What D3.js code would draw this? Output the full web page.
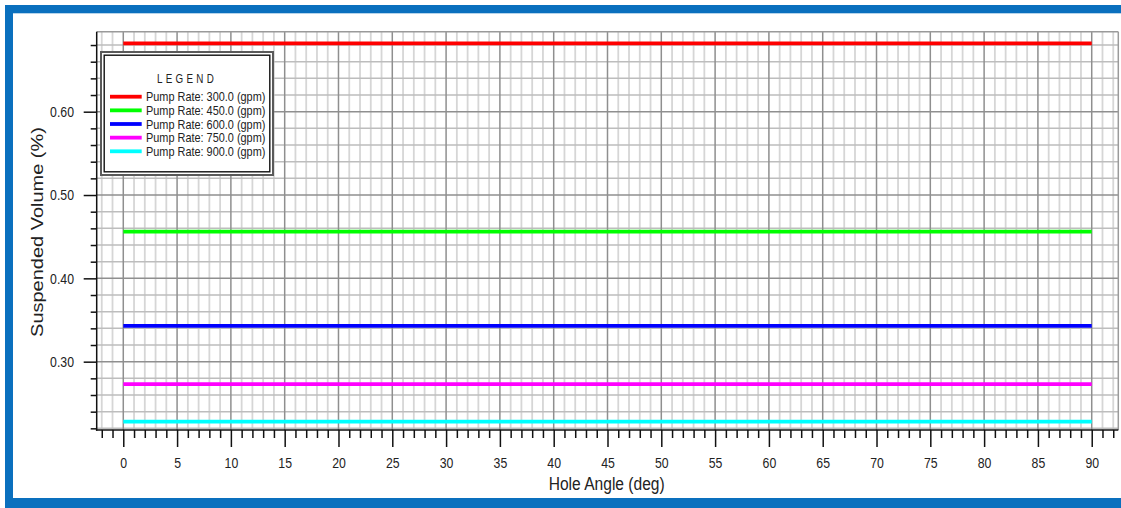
<!DOCTYPE html>
<html>
<head>
<meta charset="utf-8">
<script src="https://cdn.jsdelivr.net/npm/d3@7"></script>
<style>
  html, body { margin: 0; padding: 0; background: #fff; }
  svg { display: block; }
  text { font-family: "Liberation Sans", Arial, sans-serif; fill: #222; }
</style>
</head>
<body>
<svg id="chart" width="1121" height="508"></svg>
<script>
// Suspended volume vs hole angle, one flat line per pump rate
const seriesNames = [
  "Pump Rate: 300.0 (gpm)",
  "Pump Rate: 450.0 (gpm)",
  "Pump Rate: 600.0 (gpm)",
  "Pump Rate: 750.0 (gpm)",
  "Pump Rate: 900.0 (gpm)"
];
const seriesColors = ["#ff0000", "#00ff00", "#0000ff", "#ff00ff", "#00ffff"];
const seriesValues = [0.682, 0.456, 0.343, 0.273, 0.228];
const angleSpan = [0, 90];
const xTickLabels = [0, 5, 10, 15, 20, 25, 30, 35, 40, 45, 50, 55, 60, 65, 70, 75, 80, 85, 90];
const yTickLabels = [0.30, 0.40, 0.50, 0.60];

const svg = d3.select("#chart");
const plot = { left: 96.7, right: 1118.3, top: 31.7, bottom: 430 };
const SX = 0.82; // horizontal squeeze of the lettering

const x = d3.scaleLinear().domain([-2.47, 92.47]).range([plot.left, plot.right]);
const y = d3.scaleLinear().domain([0.218, 0.696]).range([plot.bottom, plot.top]);

// Outer blue frame
const frame = svg.append("g").attr("fill", "#0a70be");
frame.append("rect").attr("x", 5).attr("y", 5).attr("width", 1116).attr("height", 8.3);
frame.append("rect").attr("x", 5).attr("y", 5).attr("width", 8).attr("height", 503);
frame.append("rect").attr("x", 5).attr("y", 498).attr("width", 1116).attr("height", 10);

// Grid
const minorX = d3.range(-2, 93, 1);
const minorY = d3.range(0.22, 0.6801, 0.02).map(v => +v.toFixed(2));
const isMajorX = d => d % 5 === 0;
const isMajorY = d => Math.abs(d * 10 - Math.round(d * 10)) < 1e-6;

const grid = svg.append("g");
grid.selectAll("line.vx").data(minorX.filter(d => !isMajorX(d))).join("line")
  .attr("x1", d => x(d)).attr("x2", d => x(d))
  .attr("y1", plot.top).attr("y2", plot.bottom)
  .attr("stroke", "#d6d6d6").attr("stroke-width", 1.8);
grid.selectAll("line.hy").data(minorY.filter(d => !isMajorY(d))).join("line")
  .attr("x1", plot.left).attr("x2", plot.right)
  .attr("y1", d => y(d)).attr("y2", d => y(d))
  .attr("stroke", "#bdbdbd").attr("stroke-width", 1.5);
grid.selectAll("line.mx").data(minorX.filter(isMajorX)).join("line")
  .attr("x1", d => x(d)).attr("x2", d => x(d))
  .attr("y1", plot.top).attr("y2", plot.bottom)
  .attr("stroke", "#8f8f8f").attr("stroke-width", 1.5);
grid.selectAll("line.my").data(minorY.filter(isMajorY)).join("line")
  .attr("x1", plot.left).attr("x2", plot.right)
  .attr("y1", d => y(d)).attr("y2", d => y(d))
  .attr("stroke", "#8f8f8f").attr("stroke-width", 1.5);
// plot edges on top and right
grid.append("line").attr("x1", plot.left).attr("x2", plot.right)
  .attr("y1", plot.top).attr("y2", plot.top).attr("stroke", "#9a9a9a").attr("stroke-width", 1.5);
grid.append("line").attr("x1", plot.right).attr("x2", plot.right)
  .attr("y1", plot.top).attr("y2", plot.bottom).attr("stroke", "#9a9a9a").attr("stroke-width", 1.5);

// Axes: minor ticks first, then labelled major ticks
const xMinorAxis = d3.axisBottom(x).tickValues(minorX.filter(d => !isMajorX(d))).tickSize(8).tickFormat("");
const xAxis = d3.axisBottom(x).tickValues(xTickLabels).tickSize(17).tickPadding(10.5).tickFormat(d3.format("d"));
const yMinorAxis = d3.axisLeft(y).tickValues(minorY.filter(d => !isMajorY(d))).tickSize(6).tickFormat("");
const yAxis = d3.axisLeft(y).tickValues(yTickLabels).tickSize(13).tickFormat(d3.format(".2f"));

function styleAxis(g) {
  g.select(".domain").remove();
  g.selectAll(".tick line").attr("stroke", "#111").attr("stroke-width", 1.5);
}

svg.append("g").attr("transform", `translate(0,${plot.bottom})`).call(xMinorAxis).call(styleAxis);
const gx = svg.append("g").attr("transform", `translate(0,${plot.bottom})`).call(xAxis).call(styleAxis);
gx.selectAll(".tick text")
  .attr("font-size", 15).attr("font-family", null).attr("fill", "#222")
  .attr("transform", `scale(${SX},1)`);

svg.append("g").attr("transform", `translate(${plot.left},0)`).call(yMinorAxis).call(styleAxis);
const gy = svg.append("g").attr("transform", `translate(${plot.left},0)`).call(yAxis).call(styleAxis);
gy.selectAll(".tick text")
  .attr("font-size", 15).attr("font-family", null).attr("fill", "#222")
  .attr("x", null)
  .attr("transform", `translate(-22.7,0) scale(${SX},1)`);

// Axis lines
svg.append("line").attr("x1", plot.left).attr("x2", plot.left)
  .attr("y1", plot.top).attr("y2", plot.bottom + 0.75).attr("stroke", "#111").attr("stroke-width", 1.5);
svg.append("line").attr("x1", plot.left - 0.75).attr("x2", plot.right)
  .attr("y1", plot.bottom).attr("y2", plot.bottom).attr("stroke", "#111").attr("stroke-width", 1.5);

// Series lines
const line = d3.line().x(d => x(d.a)).y(d => y(d.v));
svg.append("g").selectAll("path").data(seriesValues).join("path")
  .attr("d", v => line(angleSpan.map(a => ({ a, v }))))
  .attr("fill", "none")
  .attr("stroke", (v, i) => seriesColors[i])
  .attr("stroke-width", 3.8);

// Axis titles
svg.append("text")
  .attr("transform", `translate(606.7,489.5) scale(${SX},1)`)
  .attr("text-anchor", "middle").attr("font-size", 19)
  .text("Hole Angle (deg)");
svg.append("text")
  .attr("transform", `translate(37,232) rotate(-90) scale(1,${SX})`)
  .attr("text-anchor", "middle").attr("dy", "0.35em").attr("font-size", 20)
  .text("Suspended Volume (%)");

// Legend
const lg = svg.append("g");
lg.append("rect").attr("x", 101).attr("y", 52).attr("width", 172).attr("height", 123)
  .attr("fill", "#fff").attr("stroke", "#5a5a5a").attr("stroke-width", 2);
lg.append("rect").attr("x", 104.2).attr("y", 55.2).attr("width", 165.6).attr("height", 116.6)
  .attr("fill", "none").attr("stroke", "#111").attr("stroke-width", 1.4);
lg.append("text")
  .attr("transform", `translate(187,82.7) scale(${SX},1)`)
  .attr("text-anchor", "middle").attr("font-size", 12).attr("letter-spacing", 4)
  .text("LEGEND");
const items = lg.selectAll("g.item").data(seriesNames).join("g")
  .attr("transform", (d, i) => `translate(0,${96.7 + i * 13.65})`);
items.append("line").attr("x1", 110).attr("x2", 141.7).attr("y1", 0).attr("y2", 0)
  .attr("stroke", (d, i) => seriesColors[i]).attr("stroke-width", 3.8);
items.append("text")
  .attr("transform", `translate(146,4.6) scale(${SX},1)`)
  .attr("font-size", 13.3)
  .text(d => d);
</script>
</body>
</html>
